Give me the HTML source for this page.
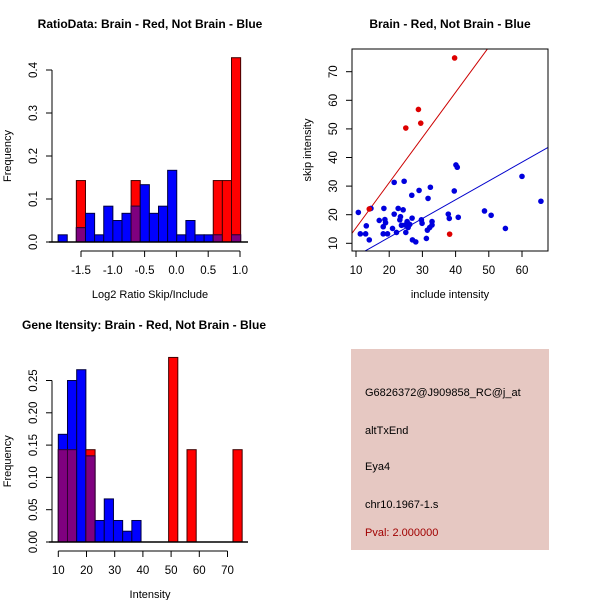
<!DOCTYPE html>
<html><head><meta charset="utf-8"><style>
html,body{margin:0;padding:0;background:#fff;}
svg{display:block;font-family:"Liberation Sans",Arial,sans-serif;}
</style></head><body>
<svg id="chart" width="600" height="600" viewBox="0 0 600 600" xmlns="http://www.w3.org/2000/svg">
<rect x="0" y="0" width="600" height="600" fill="#fff"/>
<text x="150" y="28" text-anchor="middle" font-size="12" font-weight="bold">RatioData: Brain - Red, Not Brain - Blue</text>
<text x="450" y="28" text-anchor="middle" font-size="12" font-weight="bold">Brain - Red, Not Brain - Blue</text>
<text x="144" y="329" text-anchor="middle" font-size="12" font-weight="bold">Gene Itensity: Brain - Red, Not Brain - Blue</text>
<g id="p1"></g>
<g id="p2"></g>
<g id="p3"></g>
<g>
<rect x="351" y="349" width="198" height="201" fill="#e6c8c2"/>
<text x="365" y="396" font-size="11">G6826372@J909858_RC@j_at</text>
<text x="365" y="434" font-size="11">altTxEnd</text>
<text x="365" y="470" font-size="11">Eya4</text>
<text x="365" y="508" font-size="11">chr10.1967-1.s</text>
<text x="365" y="536" font-size="11" fill="#a00000">Pval: 2.000000</text>
</g>
</svg>
<script>
// Ratio histogram data
const ratioBinStart = -1.86;
const ratioBinWidth = 0.1435;
const ratioBlue = [0.0167,0,0.0333,0.0667,0.0167,0.0833,0.05,0.0667,0.0833,0.1333,0.0667,0.0833,0.1667,0.0167,0.05,0.0167,0.0167,0.0167,0,0.0167];
const ratioRed  = [0,0,0.1429,0,0,0,0,0,0.1429,0,0,0,0,0,0,0,0,0.1429,0.1429,0.4286];
const ratioXTicks = [-1.5,-1.0,-0.5,0.0,0.5,1.0];
const ratioXLabels = ["-1.5","-1.0","-0.5","0.0","0.5","1.0"];
const ratioYTicks = [0,0.1,0.2,0.3,0.4];
const ratioYLabels = ["0.0","0.1","0.2","0.3","0.4"];
// Intensity histogram data
const intBinStart = 10;
const intBinWidth = 3.26;
const intBlue = [0.1667,0.25,0.2667,0.1333,0.0333,0.0667,0.0333,0.0167,0.0333,0,0,0,0,0,0,0,0,0,0,0];
const intRed  = [0.1429,0.1429,0,0.1429,0,0,0,0,0,0,0,0,0.2857,0,0.1429,0,0,0,0,0.1429];
const intXTicks = [10,20,30,40,50,60,70];
const intYTicks = [0,0.05,0.1,0.15,0.2,0.25];
const intYLabels = ["0.00","0.05","0.10","0.15","0.20","0.25"];
// Scatter data
const blueX = [10.7,11.3,12.9,13.1,14.0,14.5,17.0,18.2,18.4,18.7,18.9,18.2,19.5,21.0,21.5,21.5,22.2,22.7,23.2,23.4,23.7,24.2,24.5,24.8,25.0,25.4,25.7,26.2,26.9,26.8,27.0,28.0,29.0,29.7,29.9,31.2,31.7,31.5,32.2,32.4,32.9,32.9,37.8,38.1,39.6,40.1,40.5,40.8,48.7,50.7,55.0,60.0,65.7];
const blueY = [20.8,13.3,13.3,16.1,11.2,22.2,18.0,13.3,22.2,18.3,17.2,15.8,13.3,15.2,20.2,31.3,13.8,22.2,18.2,19.3,16.3,21.7,31.7,16.4,13.8,17.6,15.5,16.6,18.8,26.8,11.2,10.5,28.5,18.2,17.0,11.7,25.7,14.6,15.5,29.6,17.6,16.4,20.2,18.7,28.3,37.4,36.6,19.1,21.3,19.8,15.2,33.4,24.7];
const redX = [14.0,25.0,28.8,29.5,39.7,38.2];
const redY = [22.0,50.3,56.8,52.0,74.8,13.2];
const redFit = [-0.4,1.58];   // intercept, slope
const blueFit = [-1.05,0.657];
const scXTicks = [10,20,30,40,50,60];
const scYTicks = [10,20,30,40,50,60,70];

const NS="http://www.w3.org/2000/svg";
function mk(parent,tag,attrs){const e=document.createElementNS(NS,tag);for(const k in attrs)e.setAttribute(k,attrs[k]);parent.appendChild(e);return e;}

function hist(g,o){
  const sx=v=>o.x0+(v-o.v0)*o.kx, sy=v=>o.y0-v*o.ky;
  const n=o.blue.length;
  for(let i=0;i<n;i++){
    const a=o.bs+i*o.bw,b=a+o.bw,x=sx(a),w=sx(b)-sx(a);
    const r=o.red[i],bl=o.blue[i];
    if(r>0){const e=mk(g,'rect',{x:x,y:sy(r),width:w,height:sy(0)-sy(r),fill:'#ff0000',stroke:'#400000','stroke-width':1});
      
      }
    if(bl>0){const e=mk(g,'rect',{x:x,y:sy(bl),width:w,height:sy(0)-sy(bl),fill:'#0000ff',stroke:'#000040','stroke-width':1});
      
      }
    if(r>0&&bl>0){const m=Math.min(r,bl);const e=mk(g,'rect',{x:x,y:sy(m),width:w,height:sy(0)-sy(m),fill:'#7f007f',stroke:'#300030','stroke-width':1});
      
      }
  }
  mk(g,'line',{x1:o.bx1,x2:o.bx2,y1:sy(0),y2:sy(0),stroke:'#000','stroke-width':1.5});
  const ay=o.y0+9;
  mk(g,'line',{x1:sx(o.xt[0]),x2:sx(o.xt[o.xt.length-1]),y1:ay,y2:ay,stroke:'#000'});
  o.xt.forEach((t,i)=>{mk(g,'line',{x1:sx(t),x2:sx(t),y1:ay,y2:ay+6,stroke:'#000'});
    const tx=mk(g,'text',{x:sx(t),y:ay+23,'text-anchor':'middle','font-size':11.5});tx.textContent=o.xl[i];
    
    });
  const ax=o.x0a;
  mk(g,'line',{x1:ax,x2:ax,y1:sy(o.yt[0]),y2:sy(o.yt[o.yt.length-1]),stroke:'#000'});
  o.yt.forEach((t,i)=>{mk(g,'line',{x1:ax-6,x2:ax,y1:sy(t),y2:sy(t),stroke:'#000'});
    const lx=ax-15;
    const tx=mk(g,'text',{x:lx,y:sy(t),'text-anchor':'middle','font-size':11.5,transform:`rotate(-90 ${lx} ${sy(t)})`});tx.textContent=o.yl[i];
    
    });
  const xl=mk(g,'text',{x:o.xlx,y:o.y0+56,'text-anchor':'middle','font-size':11});xl.textContent=o.xlab;
  
  
  const yc=(sy(0)+sy(o.yt[o.yt.length-1]))/2;
  const yl=mk(g,'text',{x:11,y:yc,'text-anchor':'middle','font-size':11,transform:`rotate(-90 11 ${yc})`});yl.textContent='Frequency';
  
  
}

hist(document.getElementById('p1'),{x0:81,v0:-1.5,kx:63.6,y0:242,ky:430,bs:ratioBinStart,bw:ratioBinWidth,
  blue:ratioBlue,red:ratioRed,xt:ratioXTicks,xl:ratioXLabels,yt:ratioYTicks,yl:ratioYLabels,x0a:52,bx1:49,bx2:248,xlab:'Log2 Ratio Skip/Include',xlx:150});
hist(document.getElementById('p3'),{x0:58.3,v0:10,kx:2.82,y0:542,ky:646,bs:intBinStart,bw:intBinWidth,
  blue:intBlue,red:intRed,xt:intXTicks,xl:intXTicks.map(String),yt:intYTicks,yl:intYLabels,x0a:52,bx1:49,bx2:248,xlab:'Intensity',xlx:150});

(function(){
  const g=document.getElementById('p2');
  const L=352,R=548,T=49,B=251;
  const sx=v=>356+(v-10)*3.32, sy=v=>243.3-(v-10)*2.86;
  const cp=mk(g,'clipPath',{id:'clipsc'});mk(cp,'rect',{x:L,y:T,width:R-L,height:B-T});
  const lg=mk(g,'g',{'clip-path':'url(#clipsc)'});
  [[redFit,'#cc0000','red-fit-line'],[blueFit,'#0000cc','blue-fit-line']].forEach(([f,c,n])=>{
    const e=mk(lg,'line',{x1:sx(0),y1:sy(f[0]),x2:sx(80),y2:sy(f[0]+f[1]*80),stroke:c,'stroke-width':1});
    
    });
  blueX.forEach((x,i)=>{const e=mk(g,'circle',{cx:sx(x),cy:sy(blueY[i]),r:2.8,fill:'#0000dd'});
    
    });
  redX.forEach((x,i)=>{const e=mk(g,'circle',{cx:sx(x),cy:sy(redY[i]),r:2.8,fill:'#dd0000'});
    
    });
  mk(g,'rect',{x:L,y:T,width:R-L,height:B-T,fill:'none',stroke:'#000'});
  scXTicks.forEach(t=>{mk(g,'line',{x1:sx(t),x2:sx(t),y1:B,y2:B+6,stroke:'#000'});
    const tx=mk(g,'text',{x:sx(t),y:B+23,'text-anchor':'middle','font-size':11.5});tx.textContent=t;
    
    });
  scYTicks.forEach(t=>{mk(g,'line',{x1:L-6,x2:L,y1:sy(t),y2:sy(t),stroke:'#000'});
    const lx=L-15;
    const tx=mk(g,'text',{x:lx,y:sy(t),'text-anchor':'middle','font-size':11.5,transform:`rotate(-90 ${lx} ${sy(t)})`});tx.textContent=t;
    
    });
  const xl=mk(g,'text',{x:450,y:298,'text-anchor':'middle','font-size':11});xl.textContent='include intensity';
  
  
  const yl=mk(g,'text',{x:311,y:150,'text-anchor':'middle','font-size':11,transform:'rotate(-90 311 150)'});yl.textContent='skip intensity';
  
  
})();
</script>
</body></html>
